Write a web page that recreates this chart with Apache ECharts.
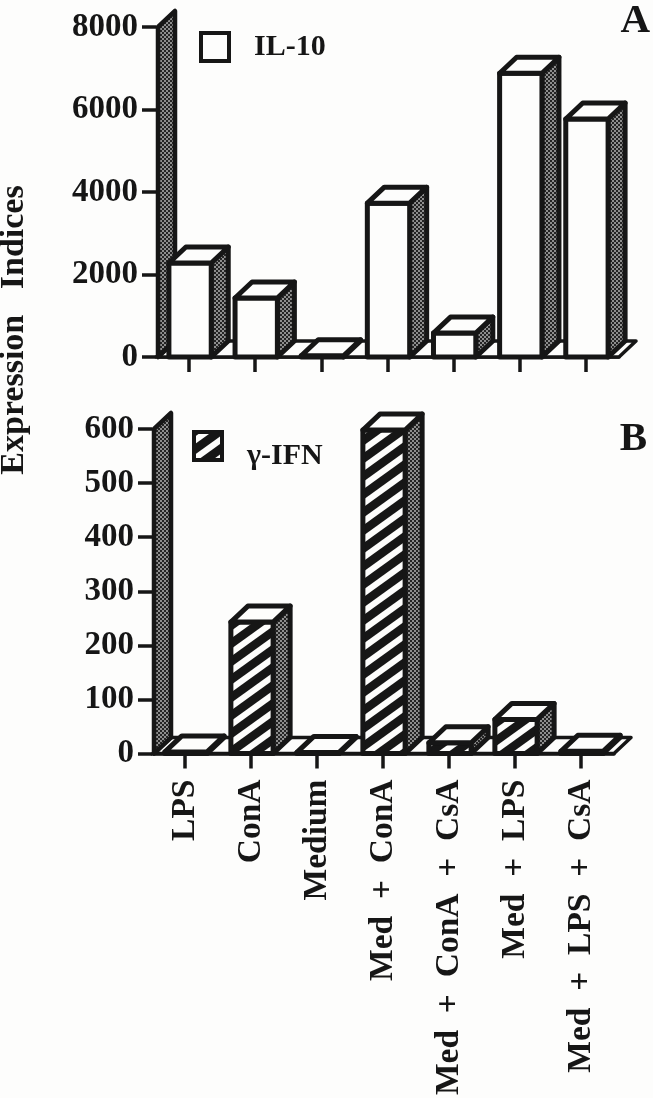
<!DOCTYPE html>
<html>
<head>
<meta charset="utf-8">
<title>IL-10 and gamma-IFN expression</title>
<script src="https://cdn.jsdelivr.net/npm/echarts@6/dist/echarts.min.js"></script>
<style>
  html, body { margin: 0; padding: 0; background: #fdfdfc; }
  #chart { width: 653px; height: 1098px; }
</style>
</head>
<body>
<div id="chart"></div>
<script>
var categories = ['LPS', 'ConA', 'Medium', 'Med + ConA', 'Med + ConA + CsA', 'Med + LPS', 'Med + LPS + CsA'];
var il10Values = [2280, 1430, 30, 3730, 580, 6880, 5770];
var ifnValues = [3, 243, 2, 598, 20, 63, 4];
var il10Ticks = [0, 2000, 4000, 6000, 8000];
var ifnTicks = [0, 100, 200, 300, 400, 500, 600];

var INK = '#161616';
var FONT = '"Liberation Serif", serif';
var DEPTH_X = 17, DEPTH_Y = 16;

// 2px checker, the printed stipple on the side faces
function dotPattern() {
  var c = document.createElement('canvas');
  c.width = c.height = 4;
  var g = c.getContext('2d');
  g.fillStyle = '#242424';
  g.fillRect(0, 0, 4, 4);
  g.fillStyle = '#8e8e8e';
  g.fillRect(0, 0, 2, 2);
  g.fillRect(2, 2, 2, 2);
  return { image: c, repeat: 'repeat' };
}

// slanted stripes for the gamma-IFN bars
function hatchPattern() {
  var c = document.createElement('canvas');
  c.width = 25;
  c.height = 18;
  var g = c.getContext('2d');
  g.fillStyle = '#fdfdfc';
  g.fillRect(0, 0, 25, 18);
  g.strokeStyle = INK;
  g.lineWidth = 8.5;
  [-18, 0, 18].forEach(function (o) {
    g.beginPath();
    g.moveTo(-5, 18 + 3.6 + o);
    g.lineTo(30, 0 - 3.6 + o);
    g.stroke();
  });
  return { image: c, repeat: 'repeat' };
}

var dots = dotPattern();
var hatch = hatchPattern();

// wall and floor of the 3D box, taken from the grid rectangle
function renderStage(params, api) {
  var r = params.coordSys;
  var x = r.x + 2, top = r.y, base = r.y + r.height, right = r.x + r.width;
  return {
    type: 'group',
    children: [
      { type: 'polygon', shape: { points: [[x, base], [x + DEPTH_X, base - DEPTH_Y], [right + DEPTH_X, base - DEPTH_Y], [right, base]] },
        style: { fill: '#fdfdfc', stroke: INK, lineWidth: 3.5, lineJoin: 'round' } },
      { type: 'polygon', shape: { points: [[x, top], [x + DEPTH_X, top - DEPTH_Y], [x + DEPTH_X, base - DEPTH_Y], [x, base]] },
        style: { fill: dots, stroke: INK, lineWidth: 4.5, lineJoin: 'round' } }
    ]
  };
}

function barRenderer(frontFill) {
  return function (params, api) {
    var i = api.value(0);
    var foot = api.coord([i, 0]);
    var head = api.coord([i, api.value(1)]);
    var w = api.size([1, 0])[0] * 0.64;
    var l = foot[0] - w / 2 + 1, r = foot[0] + w / 2 + 1;
    var y0 = foot[1], y1 = head[1];
    var style = { stroke: INK, lineWidth: 5, lineJoin: 'round' };
    return {
      type: 'group',
      children: [
        { type: 'polygon', shape: { points: [[r, y0], [r + DEPTH_X, y0 - DEPTH_Y], [r + DEPTH_X, y1 - DEPTH_Y], [r, y1]] },
          style: Object.assign({ fill: dots }, style) },
        { type: 'rect', shape: { x: l, y: y1, width: w, height: y0 - y1 },
          style: Object.assign({ fill: frontFill }, style) },
        { type: 'polygon', shape: { points: [[l, y1], [l + DEPTH_X, y1 - DEPTH_Y], [r + DEPTH_X, y1 - DEPTH_Y], [r, y1]] },
          style: Object.assign({ fill: '#fdfdfc' }, style) }
      ]
    };
  };
}

function toPoints(values) {
  return values.map(function (v, i) { return [i, v]; });
}

function xAxisFor(gridIndex, showLabels) {
  return {
    type: 'category',
    gridIndex: gridIndex,
    data: categories,
    axisLine: { show: true, lineStyle: { color: INK, width: 3.5 } },
    axisTick: { show: true, interval: 0, alignWithLabel: true, length: 15, lineStyle: { color: INK, width: 3.5 } },
    axisLabel: {
      show: showLabels,
      interval: 0,
      rotate: 90,
      margin: 26,
      color: INK,
      fontFamily: FONT,
      fontWeight: 'bold',
      fontSize: 33.5,
      formatter: function (s) { return s.replace(/ /g, '  '); }
    }
  };
}

function yAxisFor(gridIndex, ticks, labelMargin) {
  return {
    type: 'value',
    gridIndex: gridIndex,
    min: ticks[0],
    max: ticks[ticks.length - 1],
    interval: ticks[1] - ticks[0],
    splitLine: { show: false },
    axisLine: { show: false },
    axisTick: { show: true, length: 14, lineStyle: { color: INK, width: 3.5 } },
    axisLabel: {
      margin: labelMargin,
      padding: [5, 0, 0, 0],
      color: INK,
      fontFamily: FONT,
      fontWeight: 'bold',
      fontSize: 33,
      formatter: function (v) { return String(v); }
    }
  };
}

function legendFor(name, left, top, fill, labelText) {
  return {
    data: [{ name: name, icon: 'rect', itemStyle: { color: fill, borderColor: INK, borderWidth: 4 } }],
    left: left,
    top: top,
    padding: 0,
    itemWidth: 28,
    itemHeight: 28,
    selectedMode: false,
    formatter: labelText,
    textStyle: { color: INK, fontFamily: FONT, fontWeight: 'bold', fontSize: 30, lineHeight: 20, padding: [0, 0, 0, 20] }
  };
}

var chart = echarts.init(document.getElementById('chart'), null, { renderer: 'canvas' });
chart.setOption({
  backgroundColor: '#fdfdfc',
  animation: false,
  title: [
    { text: 'A', right: 3, top: 1, padding: 0, textStyle: { color: INK, fontFamily: FONT, fontWeight: 'bold', fontSize: 41 } },
    { text: 'B', right: 6, top: 419, padding: 0, textStyle: { color: INK, fontFamily: FONT, fontWeight: 'bold', fontSize: 41 } }
  ],
  legend: [
    legendFor('IL-10', 199, 31, '#fdfdfc', 'IL-10'),
    // the label sits a little below its swatch in the original
    legendFor('γ-IFN', 192, 421, hatch, '\nγ-IFN')
  ],
  grid: [
    { left: 156, top: 27, width: 463, height: 330 },
    { left: 152, top: 429, width: 462, height: 325 }
  ],
  xAxis: [xAxisFor(0, false), xAxisFor(1, true)],
  yAxis: [yAxisFor(0, il10Ticks, 18), yAxisFor(1, ifnTicks, 18)],
  series: [
    { type: 'custom', name: 'stageA', xAxisIndex: 0, yAxisIndex: 0, clip: false, data: [[0, 0]], renderItem: renderStage },
    { type: 'custom', name: 'IL-10', xAxisIndex: 0, yAxisIndex: 0, clip: false, encode: { x: 0, y: 1 }, data: toPoints(il10Values), renderItem: barRenderer('#fdfdfc') },
    { type: 'custom', name: 'stageB', xAxisIndex: 1, yAxisIndex: 1, clip: false, data: [[0, 0]], renderItem: renderStage },
    { type: 'custom', name: 'γ-IFN', xAxisIndex: 1, yAxisIndex: 1, clip: false, encode: { x: 0, y: 1 }, data: toPoints(ifnValues), renderItem: barRenderer(hatch) }
  ],
  graphic: [{
    type: 'text',
    x: 14,
    y: 330,
    rotation: Math.PI / 2,
    style: { text: 'Expression   Indices', fill: INK, font: 'bold 34px ' + FONT, align: 'center', verticalAlign: 'middle' }
  }]
});
</script>
</body>
</html>
